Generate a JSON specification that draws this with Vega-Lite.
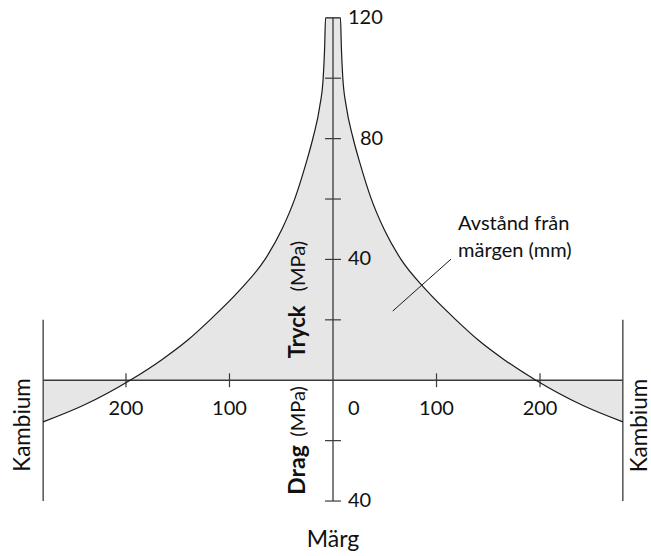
{
  "$schema": "https://vega.github.io/schema/vega-lite/v6.json",
  "width": 651,
  "height": 556,
  "padding": 0,
  "autosize": {"type": "none"},
  "background": "white",
  "config": {"view": {"stroke": null}},
  "datasets": {
    "curve": [
      {"mm": -280, "mpa": -13.8},
      {"mm": -241, "mpa": -8.3},
      {"mm": -196, "mpa": 0},
      {"mm": -165, "mpa": 6.9},
      {"mm": -140, "mpa": 13.4},
      {"mm": -118.8, "mpa": 20.0},
      {"mm": -89.9, "mpa": 29.9},
      {"mm": -65.7, "mpa": 40.0},
      {"mm": -49.6, "mpa": 49.8},
      {"mm": -36.7, "mpa": 60.3},
      {"mm": -26.1, "mpa": 71.8},
      {"mm": -19.0, "mpa": 80.7},
      {"mm": -12.9, "mpa": 90.5},
      {"mm": -9.4, "mpa": 100.5},
      {"mm": -8.1, "mpa": 110},
      {"mm": -7.2, "mpa": 120},
      {"mm": 7.2, "mpa": 120},
      {"mm": 8.1, "mpa": 110},
      {"mm": 9.4, "mpa": 100.5},
      {"mm": 12.9, "mpa": 90.5},
      {"mm": 19.0, "mpa": 80.7},
      {"mm": 26.1, "mpa": 71.8},
      {"mm": 36.7, "mpa": 60.3},
      {"mm": 49.6, "mpa": 49.8},
      {"mm": 65.7, "mpa": 40.0},
      {"mm": 89.9, "mpa": 29.9},
      {"mm": 118.8, "mpa": 20.0},
      {"mm": 140, "mpa": 13.4},
      {"mm": 165, "mpa": 6.9},
      {"mm": 196, "mpa": 0},
      {"mm": 241, "mpa": -8.3},
      {"mm": 280, "mpa": -13.8}
    ],
    "yticks": [{"v": 100}, {"v": 80}, {"v": 60}, {"v": 40}, {"v": 20}, {"v": -20}, {"v": -40}],
    "xticks": [{"v": -200, "t": "200"}, {"v": -100, "t": "100"}, {"v": 100, "t": "100"}, {"v": 200, "t": "200"}],
    "ylabels": [{"v": 120, "t": "120"}, {"v": 40, "t": "40"}, {"v": -40, "t": "40"}],
    "kambium": [{"r": -280}, {"r": 280}],
    "one": [{}]
  },
  "layer": [
    {
      "data": {"name": "curve"},
      "mark": {"type": "area", "interpolate": "monotone", "fill": "#e6e6e6", "stroke": null},
      "encoding": {
        "x": {"field": "mm", "type": "quantitative", "scale": {"domain": [-321.7, 307.2], "nice": false, "zero": false}, "axis": null},
        "y": {"field": "mpa", "type": "quantitative", "scale": {"domain": [-58.2, 125.9], "nice": false, "zero": false}, "axis": null},
        "y2": {"datum": 0}
      }
    },
    {
      "data": {"name": "one"},
      "mark": {"type": "rule", "color": "#3a3a3a", "strokeWidth": 1.3},
      "encoding": {"x": {"datum": -280}, "x2": {"datum": 280}, "y": {"datum": 0}}
    },
    {
      "data": {"name": "one"},
      "mark": {"type": "rule", "color": "#3a3a3a", "strokeWidth": 1.3},
      "encoding": {"x": {"datum": 0}, "y": {"datum": -40}, "y2": {"datum": 120}}
    },
    {
      "data": {"name": "kambium"},
      "mark": {"type": "rule", "color": "#3a3a3a", "strokeWidth": 1.3},
      "encoding": {"x": {"field": "r", "type": "quantitative"}, "y": {"datum": 20}, "y2": {"datum": -40}}
    },
    {
      "data": {"name": "yticks"},
      "mark": {"type": "rule", "color": "#3a3a3a", "strokeWidth": 1.2},
      "encoding": {"x": {"datum": -7.7}, "x2": {"datum": 7.7}, "y": {"field": "v", "type": "quantitative"}}
    },
    {
      "data": {"name": "xticks"},
      "mark": {"type": "rule", "color": "#3a3a3a", "strokeWidth": 1.2},
      "encoding": {"x": {"field": "v", "type": "quantitative"}, "y": {"datum": -2.3}, "y2": {"datum": 2.3}}
    },
    {
      "data": {"name": "curve"},
      "mark": {"type": "line", "interpolate": "monotone", "color": "#1a1a1a", "strokeWidth": 1.2},
      "encoding": {
        "x": {"field": "mm", "type": "quantitative"},
        "y": {"field": "mpa", "type": "quantitative"}
      }
    },
    {
      "data": {"name": "one"},
      "mark": {"type": "rule", "color": "#1a1a1a", "strokeWidth": 1},
      "encoding": {"x": {"datum": 57.7}, "y": {"datum": 22.9}, "x2": {"datum": 114}, "y2": {"datum": 40.1}}
    },
    {
      "data": {"name": "xticks"},
      "mark": {"type": "text", "font": "Lato", "fontSize": 20, "color": "#111", "align": "center", "baseline": "middle"},
      "encoding": {"x": {"field": "v", "type": "quantitative"}, "y": {"datum": -9.4}, "text": {"field": "t"}}
    },
    {
      "data": {"name": "one"},
      "mark": {"type": "text", "font": "Lato", "fontSize": 20, "color": "#111", "align": "center", "baseline": "middle", "text": "0"},
      "encoding": {"x": {"datum": 20}, "y": {"datum": -9.4}}
    },
    {
      "data": {"name": "ylabels"},
      "mark": {"type": "text", "font": "Lato", "fontSize": 20, "color": "#111", "align": "left", "baseline": "middle"},
      "encoding": {"x": {"datum": 14.5}, "y": {"field": "v", "type": "quantitative"}, "text": {"field": "t"}}
    },
    {
      "data": {"name": "one"},
      "mark": {"type": "text", "font": "Lato", "fontSize": 20, "color": "#111", "align": "left", "baseline": "middle", "text": "80"},
      "encoding": {"x": {"datum": 26}, "y": {"datum": 80}}
    },
    {
      "data": {"name": "one"},
      "mark": {"type": "text", "font": "Lato", "fontSize": 20, "color": "#111", "align": "left", "baseline": "alphabetic", "lineHeight": 27, "text": ["Avstånd från", "märgen (mm)"]},
      "encoding": {"x": {"datum": 120.8}, "y": {"datum": 49.8}}
    },
    {
      "data": {"name": "one"},
      "mark": {"type": "text", "font": "Lato", "fontSize": 23, "color": "#111", "align": "center", "baseline": "alphabetic", "text": "Märg"},
      "encoding": {"x": {"datum": 0}, "y": {"datum": -55.1}}
    },
    {
      "data": {"name": "one"},
      "mark": {"type": "text", "font": "Lato", "fontSize": 22.5, "color": "#111", "align": "center", "baseline": "alphabetic", "angle": 270, "text": "Kambium"},
      "encoding": {"x": {"datum": -292.8}, "y": {"datum": -14.8}}
    },
    {
      "data": {"name": "one"},
      "mark": {"type": "text", "font": "Lato", "fontSize": 22.5, "color": "#111", "align": "center", "baseline": "alphabetic", "angle": 270, "text": "Kambium"},
      "encoding": {"x": {"datum": 303.1}, "y": {"datum": -15}}
    },
    {
      "data": {"name": "one"},
      "mark": {"type": "text", "font": "Lato", "fontSize": 22, "fontWeight": "bold", "color": "#111", "align": "left", "baseline": "alphabetic", "angle": 270, "text": "Tryck"},
      "encoding": {"x": {"datum": -27.1}, "y": {"datum": 7.3}}
    },
    {
      "data": {"name": "one"},
      "mark": {"type": "text", "font": "Lato", "fontSize": 20, "color": "#111", "align": "left", "baseline": "alphabetic", "angle": 270, "text": "(MPa)"},
      "encoding": {"x": {"datum": -27.1}, "y": {"datum": 29.4}}
    },
    {
      "data": {"name": "one"},
      "mark": {"type": "text", "font": "Lato", "fontSize": 23, "fontWeight": "bold", "color": "#111", "align": "left", "baseline": "alphabetic", "angle": 270, "text": "Drag"},
      "encoding": {"x": {"datum": -27.1}, "y": {"datum": -37.9}}
    },
    {
      "data": {"name": "one"},
      "mark": {"type": "text", "font": "Lato", "fontSize": 20, "color": "#111", "align": "left", "baseline": "alphabetic", "angle": 270, "text": "(MPa)"},
      "encoding": {"x": {"datum": -27.1}, "y": {"datum": -18.7}}
    }
  ]
}
